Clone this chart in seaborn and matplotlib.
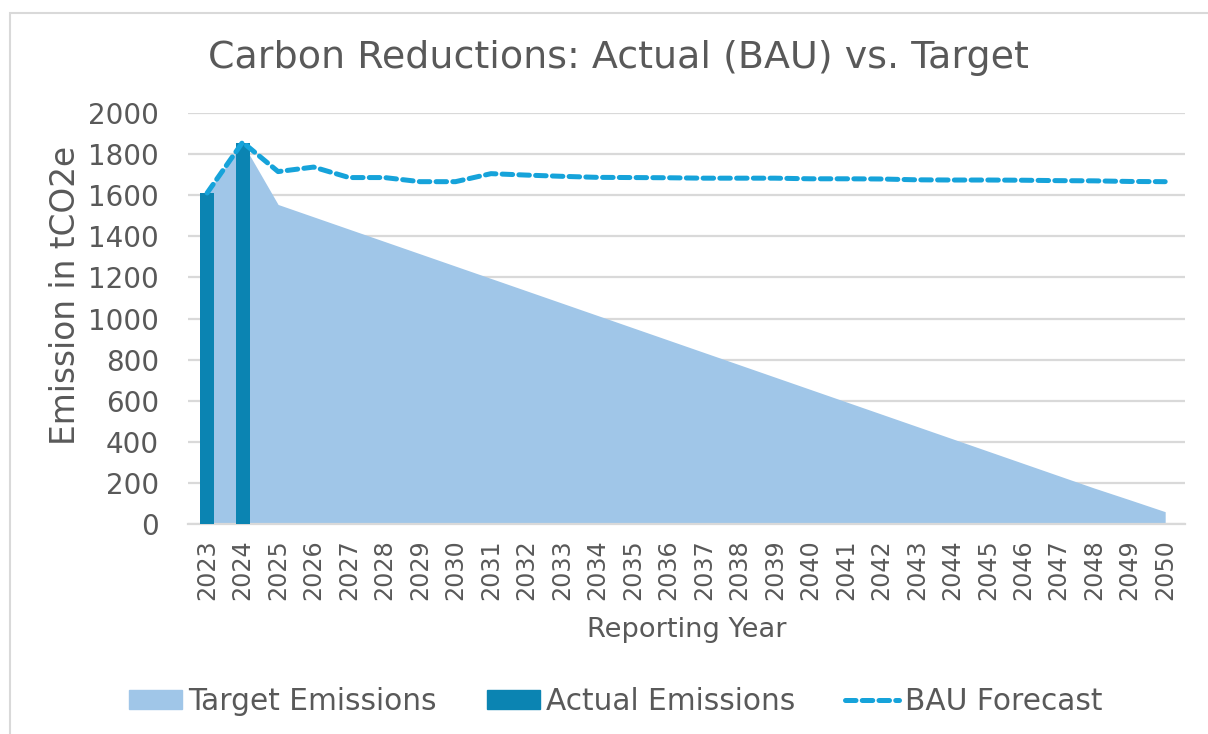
import seaborn as sns
import pandas as pd
import matplotlib.pyplot as plt
from matplotlib.patches import Patch, Rectangle
from matplotlib.lines import Line2D

# chart values
years = [str(y) for y in range(2023, 2051)]
target = [1611, 1854, 1555, 1495, 1435, 1375, 1315, 1255, 1195, 1135,
          1075, 1015, 955, 895, 835, 775, 715, 655, 595, 535,
          475, 415, 355, 295, 235, 175, 118, 60]
actual_years = ['2023', '2024']
actual = [1611, 1854]
bau = [1611, 1858, 1715, 1737, 1686, 1686, 1666, 1666, 1705, 1698,
       1692, 1687, 1686, 1685, 1683, 1683, 1683, 1680, 1680, 1679,
       1675, 1674, 1674, 1673, 1671, 1670, 1667, 1666]

c_area = '#A0C6E8'
c_bar = '#0B84B2'
c_line = '#16A3DA'
c_text = '#595959'
c_grid = '#D9D9D9'

df = pd.DataFrame({'year': years, 'pos': range(len(years)),
                   'target': target, 'bau': bau})
bars = pd.DataFrame({'year': actual_years, 'actual': actual})

sns.set_style('white')
plt.rcParams['font.family'] = ['DejaVu Sans']

fig = plt.figure(figsize=(12.08, 7.34), dpi=100)
ax = fig.add_axes([0.1556, 0.2861, 0.8254, 0.5599])

# target emissions as area
ax.fill_between(df['pos'], df['target'], 0, color=c_area, lw=0, zorder=2)

# actual emissions bars
sns.barplot(data=bars, x='year', y='actual', order=years, color=c_bar,
            width=0.4, saturation=1, linewidth=0, ax=ax, zorder=3)

# BAU forecast dashed line
dash = (2.1, 1.25)
sns.lineplot(data=df, x='pos', y='bau', color=c_line, lw=3.6, ax=ax,
             zorder=4)
ln = ax.lines[-1]
ln.set_dashes(dash)
ln.set_dash_capstyle('round')

ax.set_xlim(-0.54, 27.56)
ax.set_ylim(0, 2000)
ax.set_yticks(range(0, 2001, 200))
ax.set_xticks(range(len(years)))
ax.set_xticklabels(years, rotation=90)
ax.yaxis.grid(True, color=c_grid, lw=1.6, zorder=0)
ax.set_axisbelow(True)
for s in ['top', 'right', 'left']:
    ax.spines[s].set_visible(False)
ax.spines['bottom'].set_color(c_grid)
ax.spines['bottom'].set_linewidth(1.6)
ax.tick_params(axis='y', labelsize=20, colors=c_text, length=0, pad=21)
ax.tick_params(axis='x', labelsize=17.2, colors=c_text, length=0, pad=11)
ax.set_xlabel('Reporting Year', fontsize=19.6, color=c_text, labelpad=12)
ax.set_ylabel('Emission in tCO2e', fontsize=23.6, color=c_text)
ax.yaxis.set_label_coords(-0.106, 0.555)

fig.text(0.512, 0.921, 'Carbon Reductions: Actual (BAU) vs. Target',
         ha='center', va='center', fontsize=27.4, color=c_text)

handles = [Patch(color=c_area), Patch(color=c_bar),
           Line2D([], [], color=c_line, lw=3.6, dashes=dash,
                  dash_capstyle='round')]
fig.legend(handles, ['Target Emissions', 'Actual Emissions', 'BAU Forecast'],
           loc='center', bbox_to_anchor=(0.5095, 0.044), ncol=3, frameon=False,
           fontsize=21.3, labelcolor=c_text, handlelength=1.8, handleheight=0.6,
           handletextpad=0.2, columnspacing=1.7)

# chart area border (top and left visible)
fig.patches.append(Rectangle((10 / 1208, -0.1), 1.2, 0.1 + (734 - 13) / 734,
                             transform=fig.transFigure, fill=False,
                             edgecolor=c_grid, lw=1.5))

fig.savefig('out.png', dpi=100)
